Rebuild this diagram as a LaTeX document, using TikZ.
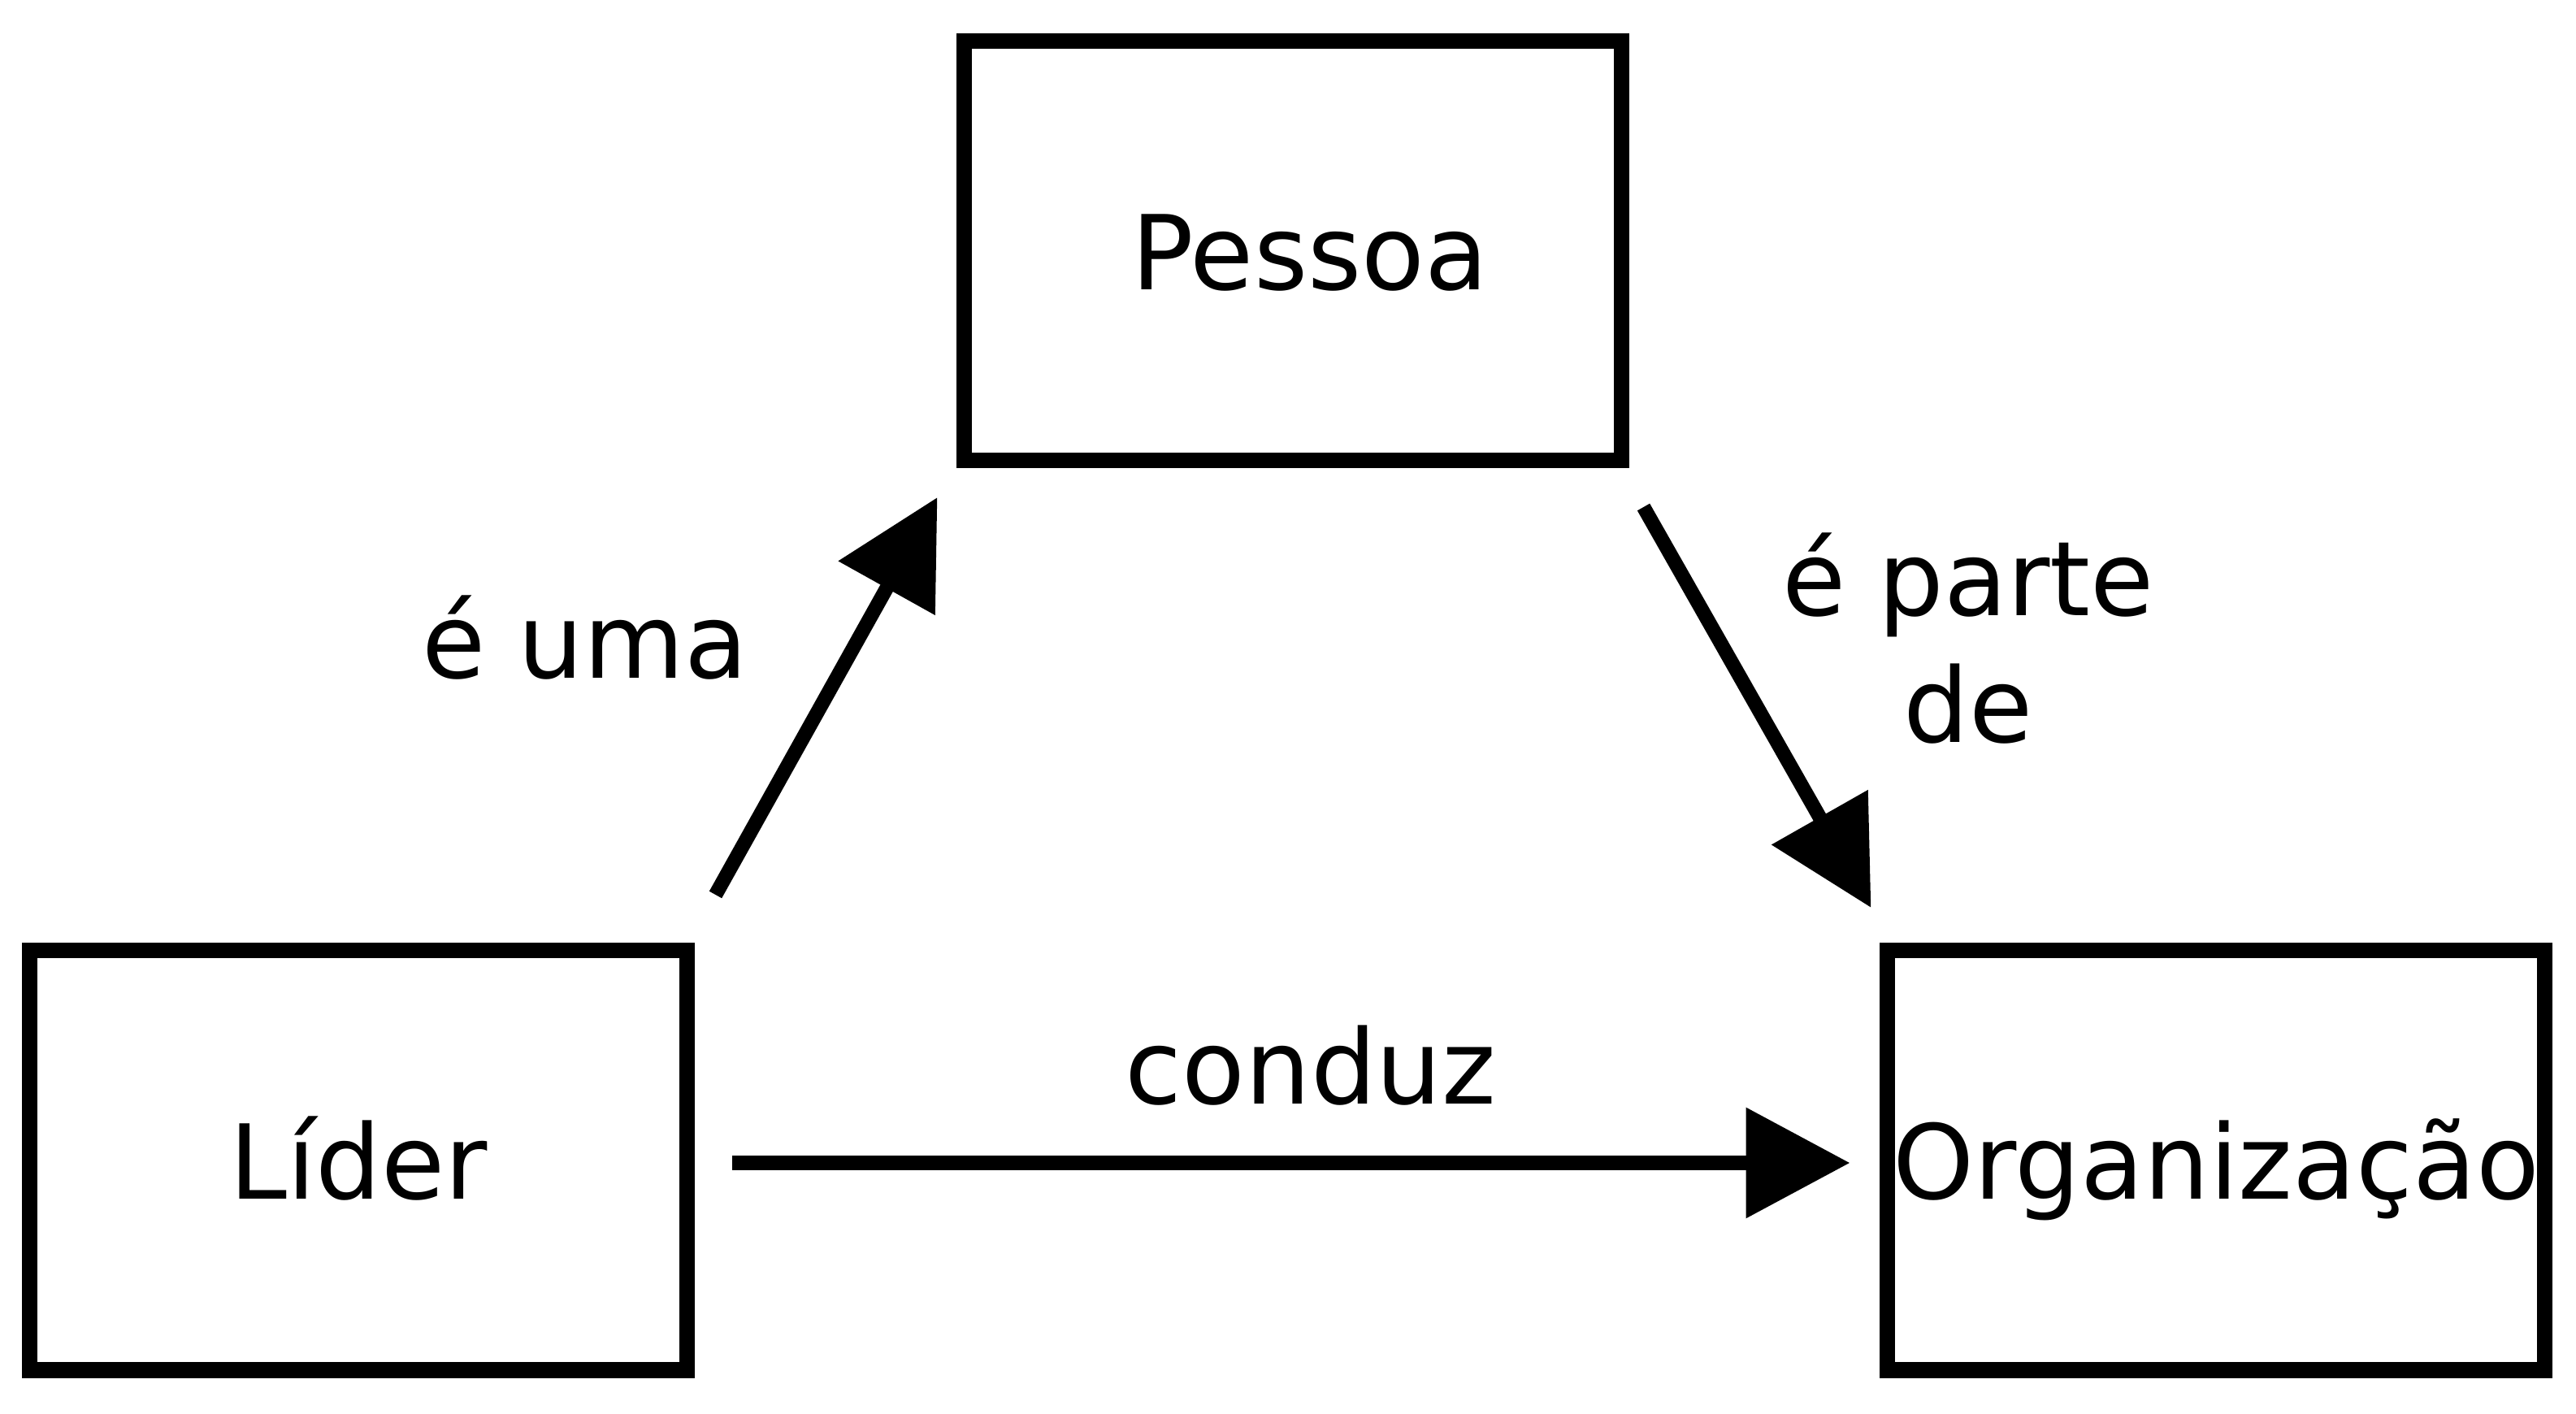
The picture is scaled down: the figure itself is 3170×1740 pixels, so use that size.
\documentclass[tikz,border=0pt]{standalone}
\usepackage{fontspec}
\setmainfont{DejaVu Sans}
\usetikzlibrary{arrows.meta,calc}
\begin{document}
\begin{tikzpicture}[x=0.25pt,y=-0.25pt,
  box/.style={draw,line width=4.75pt,outer sep=0pt,inner sep=0pt,minimum width=202.25pt,minimum height=129pt,text height=24pt,text depth=0pt,font=\fontsize{31.8}{39}\selectfont},
  lbl/.style={anchor=base,inner sep=0pt,font=\fontsize{31.8}{39}\selectfont,align=center},
  arr/.style={line width=4.4pt,-{Triangle[length=32pt,width=33pt]}}]
\useasboundingbox (0,0) rectangle (3170,1740);
\node[box] (pessoa) at (1591,309) {\hspace*{10.5pt}Pessoa};
\node[box] (lider) at (441,1428) {Líder};
\node[box] (org) at (2727,1428) {Organização};
\draw[arr] ($(lider.north east)+(35,-69)$) -- ($(pessoa.south west)+(-33,45)$);
\draw[arr] ($(pessoa.south east)+(27,57)$) -- ($(org.north west)+(-20,-53)$);
\draw[arr] ($(lider.east)+(55,3)$) -- ($(org.west)+(-46,3)$);
\node[lbl] (euma) at (720,835) {é uma};
\node[lbl] (conduz) at (1613,1359) {conduz};
\node[lbl] (eparte) at (2422,914) {é parte\\de};
\end{tikzpicture}
\end{document}
